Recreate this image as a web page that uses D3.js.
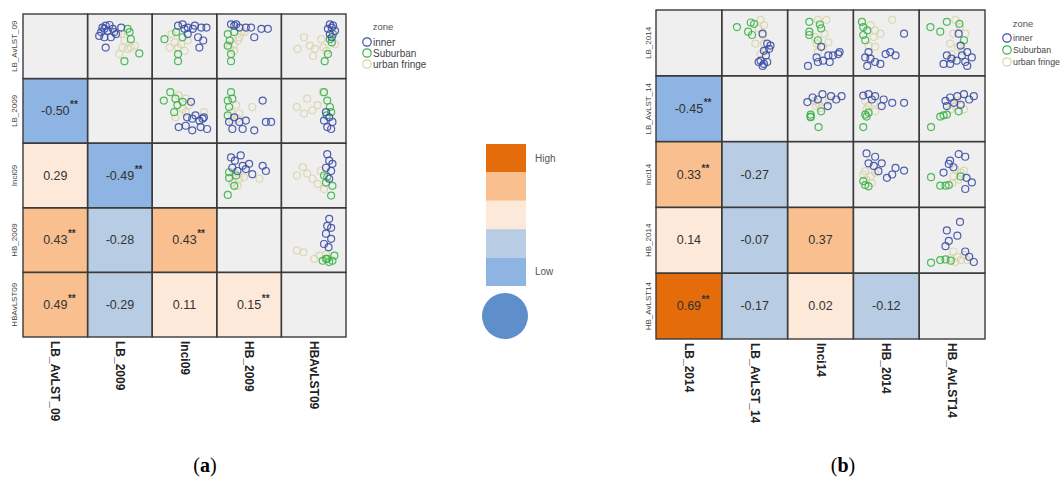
<!DOCTYPE html>
<html>
<head>
<meta charset="utf-8">
<script src="https://cdn.jsdelivr.net/npm/d3@7"></script>
<style>
  html, body { margin: 0; padding: 0; background: #ffffff; }
  svg { display: block; font-family: "Liberation Sans", Arial, sans-serif; }
</style>
</head>
<body>
<svg id="chart" width="1062" height="482"></svg>
<script>
// ---------------- DATA ----------------
const zones = ["inner", "Suburban", "urban fringe"];

const varsA = ["LB_AvLST_09", "LB_2009", "Inci09", "HB_2009", "HBAvLST09"];
const varsB = ["LB_2014", "LB_AvLST_14", "Inci14", "HB_2014", "HB_AvLST14"];

// lower triangle correlations: [row, col, r, significant(**)]
const corrA = [
  [1, 0, -0.50, true],
  [2, 0, 0.29, false], [2, 1, -0.49, true],
  [3, 0, 0.43, true], [3, 1, -0.28, false], [3, 2, 0.43, true],
  [4, 0, 0.49, true], [4, 1, -0.29, false], [4, 2, 0.11, false], [4, 3, 0.15, true]
];
const corrB = [
  [1, 0, -0.45, true],
  [2, 0, 0.33, true], [2, 1, -0.27, false],
  [3, 0, 0.14, false], [3, 1, -0.07, false], [3, 2, 0.37, false],
  [4, 0, 0.69, true], [4, 1, -0.17, false], [4, 2, 0.02, false], [4, 3, -0.12, false]
];

// upper triangle scatter points (x,y in 0-100 within a cell), per zone
const scatterA = [
  { row: 0, col: 1,
    inner: "23,79 28,82 34,83 26,77 21,72 31,74 39,77 18,66 26,64 36,64 44,69 28,48 41,72 52,79",
    suburban: "65,72 67,61 80,39 57,27 62,77",
    fringe: "52,69 57,59 67,48 54,48 49,38 73,51 62,46 47,69" },
  { row: 0, col: 2,
    inner: "40,82 47,84 55,79 63,77 66,82 76,79 84,79 71,64 79,59 73,48 55,69 50,77",
    suburban: "19,61 40,38 40,27 37,72 47,64",
    fringe: "27,48 35,56 45,53 50,43 55,59 40,48 30,69" },
  { row: 0, col: 3,
    inner: "22,84 27,82 35,79 45,79 53,79 58,64 69,77 79,77 30,84",
    suburban: "17,69 20,59 22,38 22,27 27,72 17,51",
    fringe: "20,48 27,53 35,64 38,72 27,43 33,59 43,72" },
  { row: 0, col: 4,
    inner: "75,84 78,79 72,77 80,82 75,69 78,64 83,74",
    suburban: "75,61 80,69 67,27 72,38 78,56",
    fringe: "25,46 35,64 44,51 52,46 49,35 62,61 65,48 70,43 83,53" },
  { row: 1, col: 2,
    inner: "60,64 54,40 62,38 67,43 73,35 78,38 41,25 52,27 62,20 75,25 85,22 80,40",
    suburban: "18,66 28,79 36,69 39,59 47,64 34,48",
    fringe: "41,74 52,69 47,53 36,40 52,48 80,48 57,59" },
  { row: 1, col: 3,
    inner: "19,33 24,22 35,33 40,22 45,35 58,20 71,66 76,33 84,33 27,40",
    suburban: "22,79 17,66 19,56 24,69 17,43",
    fringe: "22,48 30,59 35,46 24,35 55,56 32,38" },
  { row: 1, col: 4,
    inner: "66,35 71,25 77,22 79,33 69,48 74,40",
    suburban: "66,79 71,66 75,56 70,43 77,48",
    fringe: "24,56 35,46 40,69 48,51 56,59 64,79" },
  { row: 2, col: 3,
    inner: "22,78 28,73 24,62 40,65 50,68 55,52 71,65 76,57 32,57 37,81 45,60",
    suburban: "19,46 17,20 27,34 19,55 30,50",
    fringe: "27,55 35,45 32,34 42,47 66,45 24,39" },
  { row: 2, col: 4,
    inner: "71,83 74,73 69,62 77,57 74,45 79,68",
    suburban: "69,39 77,19 66,50 79,34 71,48",
    fringe: "24,50 33,63 48,45 61,57 66,29 56,37 40,53" },
  { row: 3, col: 4,
    inner: "74,83 71,72 77,69 69,60 66,44 73,39 77,52",
    suburban: "64,18 71,21 79,18 74,16 69,21 82,26",
    fringe: "24,34 34,31 51,21 59,26 69,28" }
];

const scatterB = [
  { row: 0, col: 1,
    inner: "62,64 69,49 72,41 64,38 67,31 59,23 64,18 56,21 69,21 62,15 74,46",
    suburban: "23,74 44,81 49,79 40,67 46,62",
    fringe: "59,85 64,77 56,72 62,62 51,49 64,49 59,33 67,38" },
  { row: 0, col: 2,
    inner: "51,44 31,15 46,21 54,23 62,31 69,31 79,36 77,33 64,21 44,28",
    suburban: "33,82 49,78 33,67 33,62 46,54 51,72",
    fringe: "46,85 59,85 41,59 56,64 44,49 62,51 46,36 54,44" },
  { row: 0, col: 3,
    inner: "18,28 21,15 26,26 33,21 41,18 49,33 56,36 64,31 77,64 23,36",
    suburban: "13,82 15,74 21,69 15,62 18,54",
    fringe: "26,77 33,69 31,59 23,46 33,44 59,85 41,64" },
  { row: 0, col: 4,
    inner: "60,64 63,46 73,36 42,31 49,26 57,23 37,18 47,18 70,21 80,28 73,15 65,31",
    suburban: "17,74 32,67 42,82 61,79 68,54",
    fringe: "55,85 62,74 52,64 70,64 47,49 59,44 49,33 65,38" },
  { row: 1, col: 2,
    inner: "30,60 53,72 66,69 74,64 82,69 61,54 46,64 38,67",
    suburban: "35,41 35,37 51,46 47,22 35,38",
    fringe: "41,62 48,56 56,62 51,51 43,54 63,62" },
  { row: 1, col: 3,
    inner: "15,70 23,72 33,69 46,64 59,59 77,59 43,54 28,64",
    suburban: "18,41 20,38 15,22 23,44",
    fringe: "18,62 23,54 31,59 33,46 20,49" },
  { row: 1, col: 4,
    inner: "40,62 47,67 58,69 68,72 83,69 76,64 53,59 63,56 42,54",
    suburban: "18,22 32,38 42,41 60,46 37,40",
    fringe: "50,59 58,62 65,64 48,49 68,49 55,54" },
  { row: 2, col: 3,
    inner: "20,82 33,77 23,67 31,63 43,67 51,45 59,50 64,60 77,56 38,55",
    suburban: "18,34 23,32 15,40",
    fringe: "18,55 26,47 20,42 15,50 33,53 28,37" },
  { row: 2, col: 4,
    inner: "60,81 70,77 47,71 45,66 52,61 72,45 80,38 70,28 37,53",
    suburban: "18,46 32,33 40,33 45,34 63,47",
    fringe: "55,58 63,53 52,47 68,56 60,42 50,37" },
  { row: 3, col: 4,
    inner: "62,78 42,65 58,57 45,49 40,41 70,33 76,25 83,17",
    suburban: "18,16 32,20 40,21 48,19",
    fringe: "52,33 58,25 63,20 48,23 68,28 55,17 73,20" }
];

const legendLabels = ["High", "", "", "", "Low"];
const panelCaptions = ["a", "b"];

// ---------------- STYLE / LAYOUT ----------------
const cellColor = d3.scaleThreshold()
  .domain([-0.3, 0, 0.3, 0.5])
  .range(["#8db4e2", "#b8cce4", "#fde9da", "#f9bf8f", "#e46c0a"]);
const zoneColor = d3.scaleOrdinal()
  .domain(zones)
  .range(["#3d4fa6", "#3cb448", "#d9d5ad"]);
const zoneKey = { "inner": "inner", "Suburban": "suburban", "urban fringe": "fringe" };
const fmt = v => d3.format(".2f")(v).replace("\u2212", "-");

const svg = d3.select("#chart");

function parsePts(s) {
  return s.trim().split(/\s+/).map(p => p.split(",").map(Number));
}

function drawPanel(cfg) {
  const n = cfg.vars.length;
  const g = svg.append("g");
  const x = d3.scaleBand().domain(d3.range(n)).range([cfg.x0, cfg.x0 + cfg.size]);
  const y = d3.scaleBand().domain(d3.range(n)).range([cfg.y0, cfg.y0 + cfg.size]);
  const corrMap = new Map(cfg.corr.map(d => [d[0] + "_" + d[1], d]));

  // cells
  const cells = [];
  for (let r = 0; r < n; r++) for (let c = 0; c < n; c++) cells.push({ r, c });
  g.selectAll("rect.cell").data(cells).join("rect")
    .attr("class", "cell")
    .attr("x", d => x(d.c)).attr("y", d => y(d.r))
    .attr("width", x.bandwidth()).attr("height", y.bandwidth())
    .attr("fill", d => {
      const k = corrMap.get(d.r + "_" + d.c);
      return k ? cellColor(k[2]) : "#efefef";
    });

  // scatter
  const sx = d3.scaleLinear().domain([0, 100]).range([0, x.bandwidth()]);
  const sy = d3.scaleLinear().domain([0, 100]).range([y.bandwidth(), 0]);
  cfg.scatter.forEach(cell => {
    const cg = g.append("g").attr("transform", `translate(${x(cell.col)},${y(cell.row)})`);
    ["urban fringe", "Suburban", "inner"].forEach(z => {
      cg.selectAll(null).data(parsePts(cell[zoneKey[z]])).join("circle")
        .attr("cx", d => sx(d[0])).attr("cy", d => sy(d[1]))
        .attr("r", 3.5)
        .attr("fill", "none")
        .attr("stroke", zoneColor(z))
        .attr("stroke-width", 1.2)
        .attr("stroke-opacity", 0.9);
    });
  });

  // grid lines
  g.selectAll("rect.border").data(cells).join("rect")
    .attr("class", "border")
    .attr("x", d => x(d.c)).attr("y", d => y(d.r))
    .attr("width", x.bandwidth()).attr("height", y.bandwidth())
    .attr("fill", "none").attr("stroke", "#3b3b3b").attr("stroke-width", 1.4);

  // correlation texts
  cfg.corr.forEach(d => {
    const cx = x(d[1]) + x.bandwidth() / 2;
    const cy = y(d[0]) + y.bandwidth() / 2;
    const t = g.append("text")
      .attr("x", cx).attr("y", cy)
      .attr("text-anchor", "middle").attr("dominant-baseline", "central")
      .attr("font-size", 12.5).attr("fill", "#333")
      .text(fmt(d[2]));
    if (d[3]) {
      const w = t.node().getComputedTextLength();
      g.append("text")
        .attr("x", cx + w / 2 + 0.5).attr("y", cy - 3)
        .attr("font-size", 10).attr("font-weight", "bold").attr("fill", "#333")
        .text("**");
    }
  });

  // row labels (left, rotated)
  g.selectAll("text.rowlab").data(cfg.vars).join("text")
    .attr("class", "rowlab")
    .attr("transform", (d, i) => `translate(${cfg.rowLabX},${y(i) + y.bandwidth() / 2}) rotate(-90)`)
    .attr("text-anchor", "middle").attr("dominant-baseline", "central")
    .attr("font-size", 8).attr("fill", "#444")
    .text(d => d);

  // column labels (bottom, rotated)
  g.selectAll("text.collab").data(cfg.vars).join("text")
    .attr("class", "collab")
    .attr("transform", (d, i) => `translate(${x(i) + x.bandwidth() / 2},${cfg.y0 + cfg.size + 4}) rotate(90)`)
    .attr("text-anchor", "start").attr("dominant-baseline", "central")
    .attr("font-size", 12).attr("font-weight", "bold").attr("fill", "#222")
    .text(d => d);

  // zone legend
  const lg = g.append("g");
  lg.append("text").attr("x", cfg.legX + 16).attr("y", cfg.legY)
    .attr("text-anchor", "middle").attr("dominant-baseline", "central")
    .attr("font-size", 9.5).attr("fill", "#555").text("zone");
  zones.forEach((z, i) => {
    const yy = cfg.legY + cfg.legY0 + i * cfg.legStep;
    lg.append("circle").attr("cx", cfg.legX).attr("cy", yy).attr("r", 4.2)
      .attr("fill", "none").attr("stroke", zoneColor(z)).attr("stroke-width", 1.2);
    lg.append("text").attr("x", cfg.legX + 6).attr("y", yy)
      .attr("dominant-baseline", "central")
      .attr("font-size", cfg.legFont).attr("fill", "#444").text(z);
  });

  // caption
  const cap = svg.append("text")
    .attr("x", cfg.capX).attr("y", 472)
    .attr("text-anchor", "middle")
    .attr("font-family", "'Liberation Serif', 'DejaVu Serif', serif")
    .attr("font-size", 20).attr("fill", "#000");
  cap.append("tspan").text("(");
  cap.append("tspan").attr("font-weight", "bold").text(cfg.caption);
  cap.append("tspan").text(")");
}

drawPanel({ vars: varsA, corr: corrA, scatter: scatterA,
  x0: 23, y0: 14, size: 323, rowLabX: 14, legFont: 10,
  legX: 367, legY: 26, legY0: 16, legStep: 11, capX: 205, caption: panelCaptions[0] });
drawPanel({ vars: varsB, corr: corrB, scatter: scatterB,
  x0: 656, y0: 10, size: 329, rowLabX: 648, legFont: 8.8,
  legX: 1007, legY: 23, legY0: 15, legStep: 12, capX: 843, caption: panelCaptions[1] });

// center colour legend
const legColors = cellColor.range().slice().reverse();
const ly = d3.scaleBand().domain(d3.range(legColors.length)).range([144, 286]);
svg.selectAll("rect.leg").data(legColors).join("rect")
  .attr("class", "leg")
  .attr("x", 486).attr("y", (d, i) => ly(i))
  .attr("width", 40).attr("height", ly.bandwidth())
  .attr("fill", d => d);
svg.selectAll("text.leg").data(legendLabels).join("text")
  .attr("class", "leg")
  .attr("x", 535).attr("y", (d, i) => ly(i) + 14)
  .attr("dominant-baseline", "central")
  .attr("font-size", 10).attr("fill", "#555")
  .text(d => d);
svg.append("circle").attr("cx", 505).attr("cy", 316).attr("r", 23)
  .attr("fill", "#5e8fcb");
</script>
</body>
</html>
